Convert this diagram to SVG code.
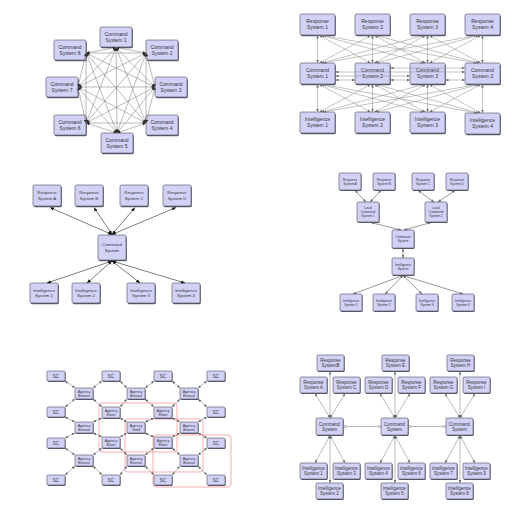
<svg xmlns="http://www.w3.org/2000/svg" width="530" height="515" viewBox="0 0 530 515">
<defs>
<marker id="ah" viewBox="0 0 6 6" refX="6" refY="3" markerWidth="3.5" markerHeight="3.5" markerUnits="userSpaceOnUse" orient="auto-start-reverse"><path d="M0,0.5 L6,3 L0,5.5 z" fill="#333"/></marker>
<marker id="ahs" viewBox="0 0 6 6" refX="6" refY="3" markerWidth="3" markerHeight="3" markerUnits="userSpaceOnUse" orient="auto-start-reverse"><path d="M0,0.5 L6,3 L0,5.5 z" fill="#666"/></marker>
<marker id="ahk" viewBox="0 0 6 6" refX="6" refY="3" markerWidth="4" markerHeight="4" markerUnits="userSpaceOnUse" orient="auto-start-reverse"><path d="M0,0.5 L6,3 L0,5.5 z" fill="#111"/></marker>
<marker id="oa" viewBox="0 0 6 6" refX="6" refY="3" markerWidth="3.5" markerHeight="3.5" markerUnits="userSpaceOnUse" orient="auto"><path d="M0.5,0.8 L6,3 L0.5,5.2 z" fill="#fff" stroke="#666" stroke-width="0.8"/></marker>
<marker id="oc" viewBox="0 0 6 6" refX="3" refY="3" markerWidth="3" markerHeight="3" markerUnits="userSpaceOnUse"><circle cx="3" cy="3" r="2.3" fill="#fff" stroke="#666" stroke-width="0.9"/></marker>
<style>
.sh{fill:#5d5d6e}
.bx{fill:#d2d2f7;stroke:#4a4a5a;stroke-width:0.6}
text{font-family:"Liberation Sans",Arial,sans-serif;fill:#333;text-anchor:middle}
.t5{font-size:5px}
.t45{font-size:4.5px}
.t43{font-size:4.3px}
.t38{font-size:3.8px}
.t32{font-size:3.2px}
.c1{stroke:#8c8c8c;stroke-width:0.6;fill:none;marker-start:url(#ah);marker-end:url(#ah)}
.c2{stroke:#9a9a9a;stroke-width:0.6;fill:none;marker-start:url(#ahs);marker-end:url(#ahs)}
.c3{stroke:#222;stroke-width:0.6;fill:none;marker-start:url(#ahk);marker-end:url(#ahk)}
.c4{stroke:#333;stroke-width:0.5;fill:none;marker-start:url(#ahs);marker-end:url(#ahs)}
.c5{stroke:#888;stroke-width:0.6;fill:none;marker-start:url(#ahs);marker-end:url(#ahs)}
.c6{stroke:#8c8c8c;stroke-width:0.6;fill:none;marker-start:url(#ahs);marker-end:url(#ahs)}
.c6h{stroke:#8c8c8c;stroke-width:0.6;fill:none;marker-start:url(#oc);marker-end:url(#oa)}
.grp{fill:none;stroke:#f08a8a;stroke-width:0.7}
</style>
</defs>
<rect width="530" height="515" fill="#fff"/>

<!-- Panel 1 nodes -->
<g id="p1-cs1" transform="translate(100,27)"><rect class="sh" x="0.8" y="1.2" width="32" height="20" rx="1.5"/><rect class="bx" width="32" height="20" rx="1.5"/><text class="t5" x="16" y="8.8">Command</text><text class="t5" x="16" y="14.8">System 1</text></g>
<g id="p1-cs2" transform="translate(146,40)"><rect class="sh" x="0.8" y="1.2" width="32" height="20" rx="1.5"/><rect class="bx" width="32" height="20" rx="1.5"/><text class="t5" x="16" y="8.8">Command</text><text class="t5" x="16" y="14.8">System 2</text></g>
<g id="p1-cs3" transform="translate(155,77)"><rect class="sh" x="0.8" y="1.2" width="32" height="20" rx="1.5"/><rect class="bx" width="32" height="20" rx="1.5"/><text class="t5" x="16" y="8.8">Command</text><text class="t5" x="16" y="14.8">System 3</text></g>
<g id="p1-cs4" transform="translate(146,115)"><rect class="sh" x="0.8" y="1.2" width="32" height="20" rx="1.5"/><rect class="bx" width="32" height="20" rx="1.5"/><text class="t5" x="16" y="8.8">Command</text><text class="t5" x="16" y="14.8">System 4</text></g>
<g id="p1-cs5" transform="translate(101,133)"><rect class="sh" x="0.8" y="1.2" width="32" height="20" rx="1.5"/><rect class="bx" width="32" height="20" rx="1.5"/><text class="t5" x="16" y="8.8">Command</text><text class="t5" x="16" y="14.8">System 5</text></g>
<g id="p1-cs6" transform="translate(54,115)"><rect class="sh" x="0.8" y="1.2" width="32" height="20" rx="1.5"/><rect class="bx" width="32" height="20" rx="1.5"/><text class="t5" x="16" y="8.8">Command</text><text class="t5" x="16" y="14.8">System 6</text></g>
<g id="p1-cs7" transform="translate(46,77)"><rect class="sh" x="0.8" y="1.2" width="32" height="20" rx="1.5"/><rect class="bx" width="32" height="20" rx="1.5"/><text class="t5" x="16" y="8.8">Command</text><text class="t5" x="16" y="14.8">System 7</text></g>
<g id="p1-cs8" transform="translate(54,40)"><rect class="sh" x="0.8" y="1.2" width="32" height="20" rx="1.5"/><rect class="bx" width="32" height="20" rx="1.5"/><text class="t5" x="16" y="8.8">Command</text><text class="t5" x="16" y="14.8">System 8</text></g>

<!-- Panel 2 nodes -->
<g id="p2-r1" transform="translate(300,14)"><rect class="sh" x="0.8" y="1.2" width="35" height="21" rx="1.5"/><rect class="bx" width="35" height="21" rx="1.5"/><text class="t5" x="17.5" y="9.3">Response</text><text class="t5" x="17.5" y="15.3">System 1</text></g>
<g id="p2-r2" transform="translate(355,14)"><rect class="sh" x="0.8" y="1.2" width="35" height="21" rx="1.5"/><rect class="bx" width="35" height="21" rx="1.5"/><text class="t5" x="17.5" y="9.3">Response</text><text class="t5" x="17.5" y="15.3">System 2</text></g>
<g id="p2-r3" transform="translate(410,14)"><rect class="sh" x="0.8" y="1.2" width="35" height="21" rx="1.5"/><rect class="bx" width="35" height="21" rx="1.5"/><text class="t5" x="17.5" y="9.3">Response</text><text class="t5" x="17.5" y="15.3">System 3</text></g>
<g id="p2-r4" transform="translate(465,14)"><rect class="sh" x="0.8" y="1.2" width="35" height="21" rx="1.5"/><rect class="bx" width="35" height="21" rx="1.5"/><text class="t5" x="17.5" y="9.3">Response</text><text class="t5" x="17.5" y="15.3">System 4</text></g>
<g id="p2-c1" transform="translate(300,63)"><rect class="sh" x="0.8" y="1.2" width="35" height="21" rx="1.5"/><rect class="bx" width="35" height="21" rx="1.5"/><text class="t5" x="17.5" y="9.3">Command</text><text class="t5" x="17.5" y="15.3">System 1</text></g>
<g id="p2-c2" transform="translate(355,63)"><rect class="sh" x="0.8" y="1.2" width="35" height="21" rx="1.5"/><rect class="bx" width="35" height="21" rx="1.5"/><text class="t5" x="17.5" y="9.3">Command</text><text class="t5" x="17.5" y="15.3">System 2</text></g>
<g id="p2-c3" transform="translate(410,63)"><rect class="sh" x="0.8" y="1.2" width="35" height="21" rx="1.5"/><rect class="bx" width="35" height="21" rx="1.5"/><text class="t5" x="17.5" y="9.3">Command</text><text class="t5" x="17.5" y="15.3">System 3</text></g>
<g id="p2-c4" transform="translate(465,63)"><rect class="sh" x="0.8" y="1.2" width="35" height="21" rx="1.5"/><rect class="bx" width="35" height="21" rx="1.5"/><text class="t5" x="17.5" y="9.3">Command</text><text class="t5" x="17.5" y="15.3">System 3</text></g>
<g id="p2-i1" transform="translate(300,112)"><rect class="sh" x="0.8" y="1.2" width="35" height="21" rx="1.5"/><rect class="bx" width="35" height="21" rx="1.5"/><text class="t5" x="17.5" y="9.3">Intelligence</text><text class="t5" x="17.5" y="15.3">System 1</text></g>
<g id="p2-i2" transform="translate(355,112)"><rect class="sh" x="0.8" y="1.2" width="35" height="21" rx="1.5"/><rect class="bx" width="35" height="21" rx="1.5"/><text class="t5" x="17.5" y="9.3">Intelligence</text><text class="t5" x="17.5" y="15.3">System 2</text></g>
<g id="p2-i3" transform="translate(410,112)"><rect class="sh" x="0.8" y="1.2" width="35" height="21" rx="1.5"/><rect class="bx" width="35" height="21" rx="1.5"/><text class="t5" x="17.5" y="9.3">Intelligence</text><text class="t5" x="17.5" y="15.3">System 3</text></g>
<g id="p2-i4" transform="translate(465,113)"><rect class="sh" x="0.8" y="1.2" width="35" height="21" rx="1.5"/><rect class="bx" width="35" height="21" rx="1.5"/><text class="t5" x="17.5" y="9.3">Intelligence</text><text class="t5" x="17.5" y="15.3">System 4</text></g>

<!-- Panel 3 nodes -->
<g id="p3-ra" transform="translate(33,185)"><rect class="sh" x="0.8" y="1.2" width="28" height="21" rx="1.5"/><rect class="bx" width="28" height="21" rx="1.5"/><text class="t43" x="14" y="9.45">Response</text><text class="t43" x="14" y="14.65">System A</text></g>
<g id="p3-rb" transform="translate(75,185)"><rect class="sh" x="0.8" y="1.2" width="28" height="21" rx="1.5"/><rect class="bx" width="28" height="21" rx="1.5"/><text class="t43" x="14" y="9.45">Response</text><text class="t43" x="14" y="14.65">System B</text></g>
<g id="p3-rc" transform="translate(120,185)"><rect class="sh" x="0.8" y="1.2" width="28" height="21" rx="1.5"/><rect class="bx" width="28" height="21" rx="1.5"/><text class="t43" x="14" y="9.45">Response</text><text class="t43" x="14" y="14.65">System C</text></g>
<g id="p3-rd" transform="translate(163,185)"><rect class="sh" x="0.8" y="1.2" width="28" height="21" rx="1.5"/><rect class="bx" width="28" height="21" rx="1.5"/><text class="t43" x="14" y="9.45">Response</text><text class="t43" x="14" y="14.65">System D</text></g>
<g id="p3-cs" transform="translate(98,235)"><rect class="sh" x="0.8" y="1.2" width="28" height="25" rx="1.5"/><rect class="bx" width="28" height="25" rx="1.5"/><text class="t43" x="14" y="11.45">Command</text><text class="t43" x="14" y="16.65">System</text></g>
<g id="p3-i1" transform="translate(30,283)"><rect class="sh" x="0.8" y="1.2" width="28" height="20" rx="1.5"/><rect class="bx" width="28" height="20" rx="1.5"/><text class="t43" x="14" y="8.95">Intelligence</text><text class="t43" x="14" y="14.15">System 1</text></g>
<g id="p3-i2" transform="translate(72,283)"><rect class="sh" x="0.8" y="1.2" width="28" height="20" rx="1.5"/><rect class="bx" width="28" height="20" rx="1.5"/><text class="t43" x="14" y="8.95">Intelligence</text><text class="t43" x="14" y="14.15">System 2</text></g>
<g id="p3-i3" transform="translate(127,283)"><rect class="sh" x="0.8" y="1.2" width="28" height="20" rx="1.5"/><rect class="bx" width="28" height="20" rx="1.5"/><text class="t43" x="14" y="8.95">Intelligence</text><text class="t43" x="14" y="14.15">System 3</text></g>
<g id="p3-i4" transform="translate(172,283)"><rect class="sh" x="0.8" y="1.2" width="28" height="20" rx="1.5"/><rect class="bx" width="28" height="20" rx="1.5"/><text class="t43" x="14" y="8.95">Intelligence</text><text class="t43" x="14" y="14.15">System 4</text></g>

<!-- Panel 4 nodes -->
<g id="p4-ra" transform="translate(339,173)"><rect class="sh" x="0.6" y="1" width="22" height="17" rx="1.2"/><rect class="bx" width="22" height="17" rx="1.2"/><text class="t32" x="11" y="7.75">Response</text><text class="t32" x="11" y="11.55">System A</text></g>
<g id="p4-rb" transform="translate(373,173)"><rect class="sh" x="0.6" y="1" width="22" height="17" rx="1.2"/><rect class="bx" width="22" height="17" rx="1.2"/><text class="t32" x="11" y="7.75">Response</text><text class="t32" x="11" y="11.55">System B</text></g>
<g id="p4-rc" transform="translate(412,173)"><rect class="sh" x="0.6" y="1" width="22" height="17" rx="1.2"/><rect class="bx" width="22" height="17" rx="1.2"/><text class="t32" x="11" y="7.75">Response</text><text class="t32" x="11" y="11.55">System C</text></g>
<g id="p4-rd" transform="translate(446,173)"><rect class="sh" x="0.6" y="1" width="22" height="17" rx="1.2"/><rect class="bx" width="22" height="17" rx="1.2"/><text class="t32" x="11" y="7.75">Response</text><text class="t32" x="11" y="11.55">System D</text></g>
<g id="p4-lc1" transform="translate(357,202)"><rect class="sh" x="0.6" y="1" width="22" height="20" rx="1.2"/><rect class="bx" width="22" height="20" rx="1.2"/><text class="t32" x="11" y="7.35">Local</text><text class="t32" x="11" y="11.15">Command</text><text class="t32" x="11" y="14.95">System 1</text></g>
<g id="p4-lc2" transform="translate(425,202)"><rect class="sh" x="0.6" y="1" width="22" height="20" rx="1.2"/><rect class="bx" width="22" height="20" rx="1.2"/><text class="t32" x="11" y="7.35">Local</text><text class="t32" x="11" y="11.15">Command</text><text class="t32" x="11" y="14.95">System 2</text></g>
<g id="p4-cs" transform="translate(392,230)"><rect class="sh" x="0.6" y="1" width="22" height="18" rx="1.2"/><rect class="bx" width="22" height="18" rx="1.2"/><text class="t32" x="11" y="8.25">Command</text><text class="t32" x="11" y="12.05">System</text></g>
<g id="p4-is" transform="translate(392,258)"><rect class="sh" x="0.6" y="1" width="22" height="17" rx="1.2"/><rect class="bx" width="22" height="17" rx="1.2"/><text class="t32" x="11" y="7.75">Intelligence</text><text class="t32" x="11" y="11.55">System</text></g>
<g id="p4-i1" transform="translate(340,294)"><rect class="sh" x="0.6" y="1" width="22" height="17" rx="1.2"/><rect class="bx" width="22" height="17" rx="1.2"/><text class="t32" x="11" y="7.75">Intelligence</text><text class="t32" x="11" y="11.55">System 1</text></g>
<g id="p4-i2" transform="translate(373,294)"><rect class="sh" x="0.6" y="1" width="22" height="17" rx="1.2"/><rect class="bx" width="22" height="17" rx="1.2"/><text class="t32" x="11" y="7.75">Intelligence</text><text class="t32" x="11" y="11.55">System 2</text></g>
<g id="p4-i3" transform="translate(416,294)"><rect class="sh" x="0.6" y="1" width="22" height="17" rx="1.2"/><rect class="bx" width="22" height="17" rx="1.2"/><text class="t32" x="11" y="7.75">Intelligence</text><text class="t32" x="11" y="11.55">System 3</text></g>
<g id="p4-i4" transform="translate(452,294)"><rect class="sh" x="0.6" y="1" width="22" height="17" rx="1.2"/><rect class="bx" width="22" height="17" rx="1.2"/><text class="t32" x="11" y="7.75">Intelligence</text><text class="t32" x="11" y="11.55">System 4</text></g>

<!-- Panel 5 group outlines -->
<rect class="grp" x="99" y="403" width="78" height="49" rx="3"/>
<rect class="grp" x="125" y="419" width="78" height="53" rx="3"/>
<rect class="grp" x="153" y="435" width="78" height="52" rx="3"/>

<!-- Panel 5 nodes -->
<g id="p5-sc11" transform="translate(47,371)"><rect class="sh" x="0.6" y="1" width="18" height="10" rx="1.2"/><rect class="bx" width="18" height="10" rx="1.2"/><text class="t45" x="9" y="6.6">SC</text></g>
<g id="p5-sc12" transform="translate(102,371)"><rect class="sh" x="0.6" y="1" width="18" height="10" rx="1.2"/><rect class="bx" width="18" height="10" rx="1.2"/><text class="t45" x="9" y="6.6">SC</text></g>
<g id="p5-sc13" transform="translate(154,371)"><rect class="sh" x="0.6" y="1" width="18" height="10" rx="1.2"/><rect class="bx" width="18" height="10" rx="1.2"/><text class="t45" x="9" y="6.6">SC</text></g>
<g id="p5-sc14" transform="translate(207,371)"><rect class="sh" x="0.6" y="1" width="18" height="10" rx="1.2"/><rect class="bx" width="18" height="10" rx="1.2"/><text class="t45" x="9" y="6.6">SC</text></g>
<g id="p5-sc21" transform="translate(47,407)"><rect class="sh" x="0.6" y="1" width="18" height="10" rx="1.2"/><rect class="bx" width="18" height="10" rx="1.2"/><text class="t45" x="9" y="6.6">SC</text></g>
<g id="p5-sc24" transform="translate(207,407)"><rect class="sh" x="0.6" y="1" width="18" height="10" rx="1.2"/><rect class="bx" width="18" height="10" rx="1.2"/><text class="t45" x="9" y="6.6">SC</text></g>
<g id="p5-sc31" transform="translate(47,438)"><rect class="sh" x="0.6" y="1" width="18" height="10" rx="1.2"/><rect class="bx" width="18" height="10" rx="1.2"/><text class="t45" x="9" y="6.6">SC</text></g>
<g id="p5-sc34" transform="translate(207,438)"><rect class="sh" x="0.6" y="1" width="18" height="10" rx="1.2"/><rect class="bx" width="18" height="10" rx="1.2"/><text class="t45" x="9" y="6.6">SC</text></g>
<g id="p5-sc41" transform="translate(47,475)"><rect class="sh" x="0.6" y="1" width="18" height="10" rx="1.2"/><rect class="bx" width="18" height="10" rx="1.2"/><text class="t45" x="9" y="6.6">SC</text></g>
<g id="p5-sc42" transform="translate(102,475)"><rect class="sh" x="0.6" y="1" width="18" height="10" rx="1.2"/><rect class="bx" width="18" height="10" rx="1.2"/><text class="t45" x="9" y="6.6">SC</text></g>
<g id="p5-sc43" transform="translate(154,475)"><rect class="sh" x="0.6" y="1" width="18" height="10" rx="1.2"/><rect class="bx" width="18" height="10" rx="1.2"/><text class="t45" x="9" y="6.6">SC</text></g>
<g id="p5-sc44" transform="translate(207,475)"><rect class="sh" x="0.6" y="1" width="18" height="10" rx="1.2"/><rect class="bx" width="18" height="10" rx="1.2"/><text class="t45" x="9" y="6.6">SC</text></g>
<g id="p5-ab11" transform="translate(75,388)"><rect class="sh" x="0.6" y="1" width="18" height="11" rx="1.2"/><rect class="bx" width="18" height="11" rx="1.2"/><text class="t38" x="9" y="4.75">Agency</text><text class="t38" x="9" y="8.95">Bronze</text></g>
<g id="p5-ab12" transform="translate(127,388)"><rect class="sh" x="0.6" y="1" width="18" height="11" rx="1.2"/><rect class="bx" width="18" height="11" rx="1.2"/><text class="t38" x="9" y="4.75">Agency</text><text class="t38" x="9" y="8.95">Bronze</text></g>
<g id="p5-ab13" transform="translate(180,388)"><rect class="sh" x="0.6" y="1" width="18" height="11" rx="1.2"/><rect class="bx" width="18" height="11" rx="1.2"/><text class="t38" x="9" y="4.75">Agency</text><text class="t38" x="9" y="8.95">Bronze</text></g>
<g id="p5-as21" transform="translate(102,407)"><rect class="sh" x="0.6" y="1" width="18" height="11" rx="1.2"/><rect class="bx" width="18" height="11" rx="1.2"/><text class="t38" x="9" y="4.75">Agency</text><text class="t38" x="9" y="8.95">Silver</text></g>
<g id="p5-as22" transform="translate(154,407)"><rect class="sh" x="0.6" y="1" width="18" height="11" rx="1.2"/><rect class="bx" width="18" height="11" rx="1.2"/><text class="t38" x="9" y="4.75">Agency</text><text class="t38" x="9" y="8.95">Silver</text></g>
<g id="p5-ab31" transform="translate(75,422)"><rect class="sh" x="0.6" y="1" width="18" height="11" rx="1.2"/><rect class="bx" width="18" height="11" rx="1.2"/><text class="t38" x="9" y="4.75">Agency</text><text class="t38" x="9" y="8.95">Bronze</text></g>
<g id="p5-ag32" transform="translate(127,422)"><rect class="sh" x="0.6" y="1" width="18" height="11" rx="1.2"/><rect class="bx" width="18" height="11" rx="1.2"/><text class="t38" x="9" y="4.75">Agency</text><text class="t38" x="9" y="8.95">Gold</text></g>
<g id="p5-ab33" transform="translate(180,422)"><rect class="sh" x="0.6" y="1" width="18" height="11" rx="1.2"/><rect class="bx" width="18" height="11" rx="1.2"/><text class="t38" x="9" y="4.75">Agency</text><text class="t38" x="9" y="8.95">Bronze</text></g>
<g id="p5-as41" transform="translate(102,437)"><rect class="sh" x="0.6" y="1" width="18" height="11" rx="1.2"/><rect class="bx" width="18" height="11" rx="1.2"/><text class="t38" x="9" y="4.75">Agency</text><text class="t38" x="9" y="8.95">Silver</text></g>
<g id="p5-as42" transform="translate(154,437)"><rect class="sh" x="0.6" y="1" width="18" height="11" rx="1.2"/><rect class="bx" width="18" height="11" rx="1.2"/><text class="t38" x="9" y="4.75">Agency</text><text class="t38" x="9" y="8.95">Silver</text></g>
<g id="p5-ab51" transform="translate(75,455)"><rect class="sh" x="0.6" y="1" width="18" height="11" rx="1.2"/><rect class="bx" width="18" height="11" rx="1.2"/><text class="t38" x="9" y="4.75">Agency</text><text class="t38" x="9" y="8.95">Bronze</text></g>
<g id="p5-ab52" transform="translate(127,455)"><rect class="sh" x="0.6" y="1" width="18" height="11" rx="1.2"/><rect class="bx" width="18" height="11" rx="1.2"/><text class="t38" x="9" y="4.75">Agency</text><text class="t38" x="9" y="8.95">Bronze</text></g>
<g id="p5-ab53" transform="translate(180,455)"><rect class="sh" x="0.6" y="1" width="18" height="11" rx="1.2"/><rect class="bx" width="18" height="11" rx="1.2"/><text class="t38" x="9" y="4.75">Agency</text><text class="t38" x="9" y="8.95">Bronze</text></g>

<!-- Panel 6 nodes -->
<g id="p6-rb" transform="translate(317,355)"><rect class="sh" x="0.7" y="1.1" width="27" height="16" rx="1.3"/><rect class="bx" width="27" height="16" rx="1.3"/><text class="t45" x="13.5" y="7.1">Response</text><text class="t45" x="13.5" y="12.1">SystemB</text></g>
<g id="p6-ra" transform="translate(300,377)"><rect class="sh" x="0.7" y="1.1" width="27" height="16" rx="1.3"/><rect class="bx" width="27" height="16" rx="1.3"/><text class="t45" x="13.5" y="7.1">Response</text><text class="t45" x="13.5" y="12.1">System A</text></g>
<g id="p6-rc" transform="translate(333,377)"><rect class="sh" x="0.7" y="1.1" width="27" height="16" rx="1.3"/><rect class="bx" width="27" height="16" rx="1.3"/><text class="t45" x="13.5" y="7.1">Response</text><text class="t45" x="13.5" y="12.1">System C</text></g>
<g id="p6-cs1" transform="translate(316,418)"><rect class="sh" x="0.7" y="1.1" width="27" height="17" rx="1.3"/><rect class="bx" width="27" height="17" rx="1.3"/><text class="t45" x="13.5" y="7.6">Command</text><text class="t45" x="13.5" y="12.6">System</text></g>
<g id="p6-i1" transform="translate(300,463)"><rect class="sh" x="0.7" y="1.1" width="27" height="16" rx="1.3"/><rect class="bx" width="27" height="16" rx="1.3"/><text class="t45" x="13.5" y="7.1">Intelligence</text><text class="t45" x="13.5" y="12.1">System 1</text></g>
<g id="p6-i3" transform="translate(333,463)"><rect class="sh" x="0.7" y="1.1" width="27" height="16" rx="1.3"/><rect class="bx" width="27" height="16" rx="1.3"/><text class="t45" x="13.5" y="7.1">Intelligence</text><text class="t45" x="13.5" y="12.1">System 3</text></g>
<g id="p6-i2" transform="translate(316,483)"><rect class="sh" x="0.7" y="1.1" width="27" height="16" rx="1.3"/><rect class="bx" width="27" height="16" rx="1.3"/><text class="t45" x="13.5" y="7.1">Intelligence</text><text class="t45" x="13.5" y="12.1">System 2</text></g>

<g id="p6-re" transform="translate(382,355)"><rect class="sh" x="0.7" y="1.1" width="27" height="16" rx="1.3"/><rect class="bx" width="27" height="16" rx="1.3"/><text class="t45" x="13.5" y="7.1">Response</text><text class="t45" x="13.5" y="12.1">System E</text></g>
<g id="p6-rd" transform="translate(365,377)"><rect class="sh" x="0.7" y="1.1" width="27" height="16" rx="1.3"/><rect class="bx" width="27" height="16" rx="1.3"/><text class="t45" x="13.5" y="7.1">Response</text><text class="t45" x="13.5" y="12.1">System D</text></g>
<g id="p6-rf" transform="translate(398,377)"><rect class="sh" x="0.7" y="1.1" width="27" height="16" rx="1.3"/><rect class="bx" width="27" height="16" rx="1.3"/><text class="t45" x="13.5" y="7.1">Response</text><text class="t45" x="13.5" y="12.1">System F</text></g>
<g id="p6-cs2" transform="translate(381,418)"><rect class="sh" x="0.7" y="1.1" width="27" height="17" rx="1.3"/><rect class="bx" width="27" height="17" rx="1.3"/><text class="t45" x="13.5" y="7.6">Command</text><text class="t45" x="13.5" y="12.6">System</text></g>
<g id="p6-i4" transform="translate(365,463)"><rect class="sh" x="0.7" y="1.1" width="27" height="16" rx="1.3"/><rect class="bx" width="27" height="16" rx="1.3"/><text class="t45" x="13.5" y="7.1">Intelligence</text><text class="t45" x="13.5" y="12.1">System 4</text></g>
<g id="p6-i6" transform="translate(398,463)"><rect class="sh" x="0.7" y="1.1" width="27" height="16" rx="1.3"/><rect class="bx" width="27" height="16" rx="1.3"/><text class="t45" x="13.5" y="7.1">Intelligence</text><text class="t45" x="13.5" y="12.1">System 6</text></g>
<g id="p6-i5" transform="translate(381,483)"><rect class="sh" x="0.7" y="1.1" width="27" height="16" rx="1.3"/><rect class="bx" width="27" height="16" rx="1.3"/><text class="t45" x="13.5" y="7.1">Intelligence</text><text class="t45" x="13.5" y="12.1">System 5</text></g>

<g id="p6-rh" transform="translate(447,355)"><rect class="sh" x="0.7" y="1.1" width="27" height="16" rx="1.3"/><rect class="bx" width="27" height="16" rx="1.3"/><text class="t45" x="13.5" y="7.1">Response</text><text class="t45" x="13.5" y="12.1">System H</text></g>
<g id="p6-rg" transform="translate(430,377)"><rect class="sh" x="0.7" y="1.1" width="27" height="16" rx="1.3"/><rect class="bx" width="27" height="16" rx="1.3"/><text class="t45" x="13.5" y="7.1">Response</text><text class="t45" x="13.5" y="12.1">System G</text></g>
<g id="p6-ri" transform="translate(463,377)"><rect class="sh" x="0.7" y="1.1" width="27" height="16" rx="1.3"/><rect class="bx" width="27" height="16" rx="1.3"/><text class="t45" x="13.5" y="7.1">Response</text><text class="t45" x="13.5" y="12.1">System I</text></g>
<g id="p6-cs3" transform="translate(446,418)"><rect class="sh" x="0.7" y="1.1" width="27" height="17" rx="1.3"/><rect class="bx" width="27" height="17" rx="1.3"/><text class="t45" x="13.5" y="7.6">Command</text><text class="t45" x="13.5" y="12.6">System</text></g>
<g id="p6-i7" transform="translate(430,463)"><rect class="sh" x="0.7" y="1.1" width="27" height="16" rx="1.3"/><rect class="bx" width="27" height="16" rx="1.3"/><text class="t45" x="13.5" y="7.1">Intelligence</text><text class="t45" x="13.5" y="12.1">System 7</text></g>
<g id="p6-i9" transform="translate(463,463)"><rect class="sh" x="0.7" y="1.1" width="27" height="16" rx="1.3"/><rect class="bx" width="27" height="16" rx="1.3"/><text class="t45" x="13.5" y="7.1">Intelligence</text><text class="t45" x="13.5" y="12.1">System 9</text></g>
<g id="p6-i8" transform="translate(446,483)"><rect class="sh" x="0.7" y="1.1" width="27" height="16" rx="1.3"/><rect class="bx" width="27" height="16" rx="1.3"/><text class="t45" x="13.5" y="7.1">Intelligence</text><text class="t45" x="13.5" y="12.1">System 8</text></g>

<!-- Connectors -->
<g id="connectors">
<g class="c1">
<line x1="116" y1="47.5" x2="146" y2="53"/><line x1="116" y1="47.5" x2="155" y2="87"/><line x1="116" y1="47.5" x2="146" y2="123"/><line x1="116" y1="47.5" x2="117" y2="133"/><line x1="116" y1="47.5" x2="86" y2="123"/><line x1="116" y1="47.5" x2="78" y2="87"/><line x1="116" y1="47.5" x2="86" y2="53"/>
<line x1="146" y1="53" x2="155" y2="87"/><line x1="146" y1="53" x2="146" y2="123"/><line x1="146" y1="53" x2="117" y2="133"/><line x1="146" y1="53" x2="86" y2="123"/><line x1="146" y1="53" x2="78" y2="87"/><line x1="146" y1="53" x2="86" y2="53"/>
<line x1="155" y1="87" x2="146" y2="123"/><line x1="155" y1="87" x2="117" y2="133"/><line x1="155" y1="87" x2="86" y2="123"/><line x1="155" y1="87" x2="78" y2="87"/><line x1="155" y1="87" x2="86" y2="53"/>
<line x1="146" y1="123" x2="117" y2="133"/><line x1="146" y1="123" x2="86" y2="123"/><line x1="146" y1="123" x2="78" y2="87"/><line x1="146" y1="123" x2="86" y2="53"/>
<line x1="117" y1="133" x2="86" y2="123"/><line x1="117" y1="133" x2="78" y2="87"/><line x1="117" y1="133" x2="86" y2="53"/>
<line x1="86" y1="123" x2="78" y2="87"/><line x1="86" y1="123" x2="86" y2="53"/>
<line x1="78" y1="87" x2="86" y2="53"/>
</g>
<g class="c2">
<line x1="317.5" y1="35.5" x2="317.5" y2="63"/><line x1="319.5" y1="35.5" x2="370.5" y2="63"/><line x1="321.5" y1="35.5" x2="423.5" y2="63"/><line x1="323.5" y1="35.5" x2="476.5" y2="63"/>
<line x1="370.5" y1="35.5" x2="319.5" y2="63"/><line x1="372.5" y1="35.5" x2="372.5" y2="63"/><line x1="374.5" y1="35.5" x2="425.5" y2="63"/><line x1="376.5" y1="35.5" x2="478.5" y2="63"/>
<line x1="423.5" y1="35.5" x2="321.5" y2="63"/><line x1="425.5" y1="35.5" x2="374.5" y2="63"/><line x1="427.5" y1="35.5" x2="427.5" y2="63"/><line x1="429.5" y1="35.5" x2="480.5" y2="63"/>
<line x1="476.5" y1="35.5" x2="323.5" y2="63"/><line x1="478.5" y1="35.5" x2="376.5" y2="63"/><line x1="480.5" y1="35.5" x2="429.5" y2="63"/><line x1="482.5" y1="35.5" x2="482.5" y2="63"/>
<line x1="317.5" y1="112" x2="317.5" y2="84.5"/><line x1="319.5" y1="112" x2="370.5" y2="84.5"/><line x1="321.5" y1="112" x2="423.5" y2="84.5"/><line x1="323.5" y1="112" x2="476.5" y2="84.5"/>
<line x1="370.5" y1="112" x2="319.5" y2="84.5"/><line x1="372.5" y1="112" x2="372.5" y2="84.5"/><line x1="374.5" y1="112" x2="425.5" y2="84.5"/><line x1="376.5" y1="112" x2="478.5" y2="84.5"/>
<line x1="423.5" y1="112" x2="321.5" y2="84.5"/><line x1="425.5" y1="112" x2="374.5" y2="84.5"/><line x1="427.5" y1="112" x2="427.5" y2="84.5"/><line x1="429.5" y1="112" x2="480.5" y2="84.5"/>
<line x1="476.5" y1="113" x2="323.5" y2="84.5"/><line x1="478.5" y1="113" x2="376.5" y2="84.5"/><line x1="480.5" y1="113" x2="429.5" y2="84.5"/><line x1="482.5" y1="113" x2="482.5" y2="84.5"/>
<line x1="335.5" y1="80" x2="355" y2="80"/><line x1="390.5" y1="80" x2="410" y2="80"/><line x1="445.5" y1="80" x2="465" y2="80"/>
<line x1="335.5" y1="76" x2="410" y2="76"/><line x1="390.5" y1="68" x2="465" y2="68"/><line x1="335.5" y1="72" x2="465" y2="72"/>
</g>
<g class="c3">
<line x1="112" y1="234.5" x2="50" y2="207.5"/><line x1="112" y1="234.5" x2="94" y2="207.5"/><line x1="112" y1="234.5" x2="135" y2="207.5"/><line x1="112" y1="234.5" x2="176" y2="207.5"/>
<line x1="112" y1="261" x2="47" y2="283"/><line x1="112" y1="261" x2="87" y2="283"/><line x1="112" y1="261" x2="140" y2="283"/><line x1="112" y1="261" x2="185" y2="283"/>
</g>
<g class="c4">
<line x1="355" y1="190.5" x2="366" y2="202"/><line x1="381" y1="190.5" x2="370" y2="202"/><line x1="418" y1="190.5" x2="434" y2="202"/><line x1="455" y1="190.5" x2="438" y2="202"/>
<line x1="371" y1="222.5" x2="401" y2="230"/><line x1="431" y1="222.5" x2="404" y2="230"/>
<line x1="403" y1="248.5" x2="403" y2="258"/>
<line x1="403" y1="275.5" x2="353" y2="294"/><line x1="403" y1="275.5" x2="385" y2="294"/><line x1="403" y1="275.5" x2="422" y2="294"/><line x1="403" y1="275.5" x2="463" y2="294"/>
</g>
<g class="c5">
<line x1="75" y1="388" x2="65" y2="381"/><line x1="93" y1="388" x2="102" y2="381"/><line x1="75" y1="399" x2="65" y2="407"/><line x1="93" y1="399" x2="102" y2="407"/>
<line x1="127" y1="388" x2="120" y2="381"/><line x1="145" y1="388" x2="154" y2="381"/><line x1="127" y1="399" x2="120" y2="407"/><line x1="145" y1="399" x2="154" y2="407"/>
<line x1="180" y1="388" x2="172" y2="381"/><line x1="198" y1="388" x2="207" y2="381"/><line x1="180" y1="399" x2="172" y2="407"/><line x1="198" y1="399" x2="207" y2="407"/>
<line x1="75" y1="422" x2="65" y2="417"/><line x1="93" y1="422" x2="102" y2="418"/><line x1="75" y1="433" x2="65" y2="438"/><line x1="93" y1="433" x2="102" y2="437"/>
<line x1="127" y1="422" x2="120" y2="418"/><line x1="145" y1="422" x2="154" y2="418"/><line x1="127" y1="433" x2="120" y2="437"/><line x1="145" y1="433" x2="154" y2="437"/>
<line x1="180" y1="422" x2="172" y2="418"/><line x1="198" y1="422" x2="207" y2="417"/><line x1="180" y1="433" x2="172" y2="437"/><line x1="198" y1="433" x2="207" y2="438"/>
<line x1="75" y1="455" x2="65" y2="448"/><line x1="93" y1="455" x2="102" y2="448"/><line x1="75" y1="466" x2="65" y2="475"/><line x1="93" y1="466" x2="102" y2="475"/>
<line x1="127" y1="455" x2="120" y2="448"/><line x1="145" y1="455" x2="154" y2="448"/><line x1="127" y1="466" x2="120" y2="475"/><line x1="145" y1="466" x2="154" y2="475"/>
<line x1="180" y1="455" x2="172" y2="448"/><line x1="198" y1="455" x2="207" y2="448"/><line x1="180" y1="466" x2="172" y2="475"/><line x1="198" y1="466" x2="207" y2="475"/>
</g>
<g class="c6">
<line x1="330" y1="418" x2="330" y2="371.5"/><line x1="330" y1="418" x2="315" y2="393.5"/><line x1="330" y1="418" x2="345" y2="393.5"/>
<line x1="330" y1="435.5" x2="315" y2="463"/><line x1="330" y1="435.5" x2="345" y2="463"/><line x1="330" y1="435.5" x2="330" y2="483"/>
<line x1="395" y1="418" x2="395" y2="371.5"/><line x1="395" y1="418" x2="380" y2="393.5"/><line x1="395" y1="418" x2="410" y2="393.5"/>
<line x1="395" y1="435.5" x2="380" y2="463"/><line x1="395" y1="435.5" x2="410" y2="463"/><line x1="395" y1="435.5" x2="395" y2="483"/>
<line x1="460" y1="418" x2="460" y2="371.5"/><line x1="460" y1="418" x2="445" y2="393.5"/><line x1="460" y1="418" x2="475" y2="393.5"/>
<line x1="460" y1="435.5" x2="445" y2="463"/><line x1="460" y1="435.5" x2="475" y2="463"/><line x1="460" y1="435.5" x2="460" y2="483"/>
</g>
<g class="c6h">
<line x1="345" y1="426.5" x2="381" y2="426.5"/><line x1="410" y1="426.5" x2="446" y2="426.5"/>
</g>
</g>
</svg>
